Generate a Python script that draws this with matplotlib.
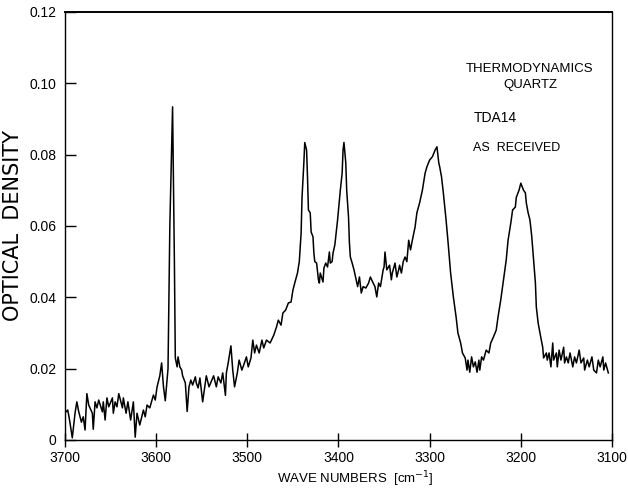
import matplotlib
matplotlib.use("Agg")
import matplotlib.pyplot as plt

# IR spectrum, OH stretching region (wave numbers in cm-1, optical density)
wave_numbers = [
    3699, 3697, 3695, 3692, 3689, 3687, 3685, 3682, 3680, 3678, 3676, 3674,
    3670, 3669, 3667, 3665, 3663, 3659, 3658, 3656, 3654, 3652, 3648, 3647,
    3645, 3643, 3641, 3637, 3636, 3633, 3631, 3628, 3625, 3623, 3621, 3618,
    3614, 3612, 3610, 3607, 3603, 3601, 3599, 3596, 3594, 3592, 3590, 3587,
    3585, 3582, 3580, 3579, 3577, 3576, 3574, 3572, 3571, 3568, 3566, 3564,
    3562, 3560, 3557, 3556, 3554, 3552, 3549, 3546, 3545, 3542, 3539, 3537,
    3534, 3532, 3529, 3527, 3524, 3523, 3521, 3518, 3516, 3514, 3511, 3509,
    3506, 3504, 3501, 3499, 3496, 3494, 3492, 3490, 3487, 3484, 3482, 3479,
    3475, 3471, 3468, 3466, 3463, 3461, 3458, 3455, 3452, 3450, 3448, 3445,
    3443, 3441, 3440, 3438, 3437, 3435, 3434, 3433, 3431, 3430, 3428, 3427,
    3426, 3424, 3422, 3421, 3420, 3417, 3416, 3414, 3412, 3410, 3409, 3407,
    3406, 3404, 3401, 3398, 3396, 3395, 3394, 3392, 3391, 3389, 3388, 3387,
    3385, 3383, 3381, 3379, 3377, 3375, 3373, 3370, 3367, 3365, 3362, 3360,
    3358, 3356, 3354, 3351, 3350, 3349, 3347, 3344, 3342, 3341, 3338, 3336,
    3334, 3333, 3331, 3329, 3327, 3325, 3323, 3321, 3319, 3316, 3314, 3311,
    3308, 3305, 3303, 3300, 3297, 3294, 3292, 3290, 3289, 3287, 3285, 3282,
    3280, 3277, 3274, 3271, 3269, 3266, 3264, 3261, 3259, 3258, 3256, 3254,
    3252, 3250, 3248, 3246, 3245, 3243, 3241, 3238, 3235, 3233, 3230, 3227,
    3225, 3222, 3219, 3216, 3214, 3211, 3209, 3206, 3205, 3202, 3200, 3197,
    3195, 3194, 3192, 3190, 3188, 3186, 3184, 3183, 3181, 3179, 3176, 3175,
    3172, 3171, 3169, 3167, 3165, 3164, 3161, 3160, 3158, 3156, 3153, 3152,
    3150, 3148, 3146, 3143, 3141, 3139, 3136, 3134, 3131, 3130, 3127, 3125,
    3122, 3120, 3117, 3115, 3113, 3110, 3109, 3107, 3104,
]
optical_density = [
    0.0079, 0.0084, 0.0056, 0.0006, 0.0075, 0.0107, 0.0080, 0.0050, 0.0065, 0.0028, 0.0130, 0.0098,
    0.0075, 0.0030, 0.0107, 0.0090, 0.0112, 0.0079, 0.0107, 0.0056, 0.0118, 0.0093, 0.0118, 0.0075,
    0.0107, 0.0093, 0.0130, 0.0090, 0.0118, 0.0075, 0.0107, 0.0056, 0.0107, 0.0008, 0.0075, 0.0042,
    0.0084, 0.0065, 0.0098, 0.0090, 0.0126, 0.0112, 0.0149, 0.0180, 0.0216, 0.0150, 0.0110, 0.0200,
    0.0600, 0.0934, 0.0500, 0.0230, 0.0205, 0.0233, 0.0205, 0.0196, 0.0180, 0.0160, 0.0080, 0.0149,
    0.0168, 0.0154, 0.0177, 0.0160, 0.0146, 0.0174, 0.0107, 0.0163, 0.0180, 0.0149, 0.0168, 0.0180,
    0.0149, 0.0177, 0.0160, 0.0188, 0.0125, 0.0188, 0.0216, 0.0264, 0.0196, 0.0149, 0.0188, 0.0224,
    0.0196, 0.0210, 0.0233, 0.0205, 0.0230, 0.0280, 0.0244, 0.0266, 0.0244, 0.0280, 0.0258, 0.0280,
    0.0272, 0.0294, 0.0317, 0.0336, 0.0322, 0.0356, 0.0364, 0.0384, 0.0387, 0.0420, 0.0440, 0.0468,
    0.0500, 0.0580, 0.0680, 0.0777, 0.0834, 0.0813, 0.0738, 0.0645, 0.0637, 0.0583, 0.0570, 0.0524,
    0.0500, 0.0496, 0.0449, 0.0440, 0.0468, 0.0443, 0.0482, 0.0496, 0.0485, 0.0527, 0.0496, 0.0500,
    0.0524, 0.0547, 0.0617, 0.0700, 0.0748, 0.0813, 0.0834, 0.0777, 0.0700, 0.0625, 0.0552, 0.0513,
    0.0496, 0.0477, 0.0454, 0.0430, 0.0457, 0.0412, 0.0430, 0.0426, 0.0440, 0.0457, 0.0440, 0.0430,
    0.0401, 0.0440, 0.0430, 0.0477, 0.0485, 0.0527, 0.0477, 0.0490, 0.0449, 0.0468, 0.0496, 0.0457,
    0.0477, 0.0490, 0.0468, 0.0500, 0.0513, 0.0500, 0.0560, 0.0533, 0.0560, 0.0597, 0.0637, 0.0665,
    0.0700, 0.0748, 0.0766, 0.0785, 0.0794, 0.0813, 0.0822, 0.0777, 0.0766, 0.0738, 0.0693, 0.0617,
    0.0560, 0.0468, 0.0401, 0.0345, 0.0300, 0.0272, 0.0244, 0.0230, 0.0196, 0.0224, 0.0190, 0.0233,
    0.0205, 0.0219, 0.0190, 0.0224, 0.0196, 0.0233, 0.0224, 0.0252, 0.0244, 0.0272, 0.0289, 0.0308,
    0.0345, 0.0393, 0.0449, 0.0505, 0.0560, 0.0608, 0.0645, 0.0653, 0.0680, 0.0700, 0.0720, 0.0700,
    0.0693, 0.0665, 0.0637, 0.0617, 0.0570, 0.0505, 0.0440, 0.0373, 0.0328, 0.0300, 0.0260, 0.0230,
    0.0244, 0.0224, 0.0244, 0.0205, 0.0272, 0.0224, 0.0244, 0.0205, 0.0252, 0.0224, 0.0260, 0.0216,
    0.0233, 0.0216, 0.0244, 0.0205, 0.0233, 0.0216, 0.0252, 0.0216, 0.0230, 0.0196, 0.0224, 0.0205,
    0.0233, 0.0196, 0.0188, 0.0224, 0.0205, 0.0233, 0.0196, 0.0216, 0.0188,
]

x_ticks = [3700, 3600, 3500, 3400, 3300, 3200, 3100]
y_ticks = [0, 0.02, 0.04, 0.06, 0.08, 0.10, 0.12]
y_tick_labels = ["0", "0.02", "0.04", "0.06", "0.08", "0.10", "0.12"]

sans = dict(family="Liberation Sans")

fig = plt.figure(figsize=(6.28, 4.92), dpi=100)
ax = fig.add_axes([0.1035, 0.1057, 0.871, 0.870])

ax.plot(wave_numbers, optical_density, color="black", linewidth=1.1)

ax.set_xlim(3700, 3100)
ax.set_ylim(0, 0.12)
ax.set_xticks(x_ticks)
ax.set_xticklabels([str(t) for t in x_ticks], fontsize=10, **sans)
ax.set_yticks(y_ticks)
ax.set_yticklabels(y_tick_labels, fontsize=10, **sans)
ax.tick_params(axis="y", direction="in", length=8, width=1, pad=6)
ax.tick_params(axis="x", direction="inout", length=10, width=1, pad=3)
for side in ax.spines.values():
    side.set_linewidth(1)
ax.spines["top"].set_linewidth(1.4)

ax.set_xlabel("WAVE NUMBERS  [cm$^{-1}$]", fontsize=9.5, **sans)
ax.xaxis.set_label_coords(0.53, -0.068)
ax.set_ylabel("OPTICAL  DENSITY", family="DejaVu Sans", fontsize=15)
ax.yaxis.set_label_coords(-0.077, 0.50)

# sample annotation, upper right
ax.text(3190, 0.1040, "THERMODYNAMICS", fontsize=9.5, ha="center", va="center", **sans)
ax.text(3190, 0.0996, "QUARTZ", fontsize=9.5, ha="center", va="center", **sans)
ax.text(3252, 0.0903, "TDA14", fontsize=10, ha="left", va="center", **sans)
ax.text(3252, 0.0820, "AS  RECEIVED", fontsize=9, ha="left", va="center", **sans)

fig.savefig("out.png", dpi=100)
